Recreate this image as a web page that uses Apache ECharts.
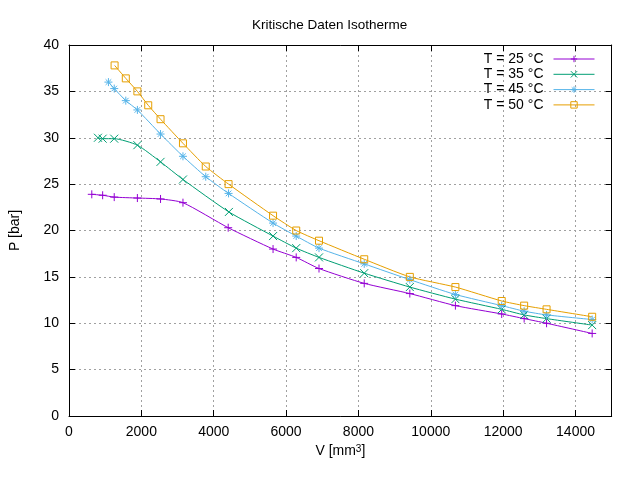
<!DOCTYPE html>
<html>
<head>
<meta charset="utf-8">
<script src="https://cdn.jsdelivr.net/npm/echarts@6/dist/echarts.min.js"></script>
<style>html,body{margin:0;padding:0;background:#fff}#c{width:640px;height:480px}</style>
</head>
<body>
<div id="c"></div>
<script>
var xTicks = [0, 2000, 4000, 6000, 8000, 10000, 12000, 14000];
var yTicks = [0, 5, 10, 15, 20, 25, 30, 35, 40];
var seriesNames = ['T = 25 °C', 'T = 35 °C', 'T = 45 °C', 'T = 50 °C'];

var v25 = [630, 930, 1250, 1890, 2530, 3150, 4400, 5640, 6280, 6910, 8160, 9420, 10680, 11960, 12580, 13200, 14460];
var p25 = [23.9, 23.8, 23.6, 23.5, 23.4, 23.0, 20.3, 18.0, 17.1, 15.9, 14.3, 13.2, 11.9, 11.0, 10.5, 10.0, 8.9];

var v35 = [800, 930, 1250, 1890, 2530, 3150, 4420, 5640, 6280, 6910, 8160, 9420, 10680, 11960, 12580, 13200, 14460];
var p35 = [30.0, 29.9, 29.9, 29.2, 27.4, 25.5, 22.0, 19.4, 18.1, 17.1, 15.4, 13.9, 12.6, 11.5, 10.9, 10.5, 9.8];

var v45 = [1090, 1250, 1570, 1890, 2530, 3150, 3780, 4410, 5640, 6280, 6910, 8160, 9420, 10680, 11960, 12580, 13200, 14460];
var p45 = [36.0, 35.3, 34.0, 33.0, 30.4, 28.0, 25.8, 24.0, 20.8, 19.4, 18.1, 16.4, 14.7, 13.1, 11.9, 11.3, 10.9, 10.4];

var v50 = [1260, 1570, 1890, 2190, 2530, 3150, 3780, 4410, 5640, 6280, 6910, 8160, 9420, 10680, 11960, 12580, 13200, 14460];
var p50 = [37.8, 36.4, 35.0, 33.5, 32.0, 29.4, 26.9, 25.0, 21.6, 20.0, 18.9, 16.9, 15.0, 13.9, 12.4, 11.9, 11.5, 10.7];

function pairs(v, p) { return v.map(function (x, i) { return [x, p[i]]; }); }

var colors = ['#9400d3', '#009e73', '#56b4e9', '#e69f00'];
var symbols = [
  'path://M5,0L5,10M0,5L10,5',
  'path://M0,0L10,10M10,0L0,10',
  'path://M5,0L5,10M0,5L10,5M1.5,1.5L8.5,8.5M8.5,1.5L1.5,8.5',
  'path://M0,0L10,0L10,10L0,10Z'
];
var sizes = [8, 8, 8, 7];
var datas = [pairs(v25, p25), pairs(v35, p35), pairs(v45, p45), pairs(v50, p50)];

var font = 'Liberation Sans, Arial, sans-serif';
var chart = echarts.init(document.getElementById('c'), null, {renderer: 'canvas'});

var option = {
  backgroundColor: '#fff',
  animation: false,
  title: {
    text: 'Kritische Daten Isotherme',
    left: 247, top: 13,
    textStyle: {fontFamily: font, fontSize: 13.5, fontWeight: 'normal', color: '#000'}
  },
  legend: {
    orient: 'vertical',
    right: 40, top: 47,
    align: 'right',
    itemWidth: 41, itemHeight: 8, itemGap: 1.3,
    lineStyle: {width: 1},
    itemStyle: {borderWidth: 1},
    textStyle: {fontFamily: font, fontSize: 14, color: '#000', padding: [0, 5, 0, 0], lineHeight: 14},
    data: seriesNames
  },
  grid: {left: 64.3, top: 45, width: 547.4, height: 371, containLabel: false},
  xAxis: [
    {
      type: 'value', min: xTicks[0], max: 15000, interval: xTicks[1] - xTicks[0],
      name: 'V [mm{s|3}]', nameLocation: 'middle', nameGap: 27,
      nameTextStyle: {fontFamily: font, fontSize: 14, color: '#000',
        rich: {s: {fontSize: 10, verticalAlign: 'top', lineHeight: 10, padding: [0, 0, 8, 0], fontFamily: font, color: '#000'}}},
      axisLine: {show: true, onZero: false, lineStyle: {color: '#000', width: 1}},
      axisTick: {show: true, inside: true, length: 6, lineStyle: {color: '#000'}},
      axisLabel: {fontFamily: font, fontSize: 14, color: '#000', margin: 9, showMaxLabel: false,
        formatter: function (v) { return String(v); }},
      splitLine: {show: true, lineStyle: {color: '#a0a0a0', width: 1, type: [2, 3]}}
    },
    {
      type: 'value', min: xTicks[0], max: 15000, interval: xTicks[1] - xTicks[0], position: 'top',
      axisLine: {show: true, onZero: false, lineStyle: {color: '#000', width: 1}},
      axisTick: {show: true, inside: true, length: 6, lineStyle: {color: '#000'}},
      axisLabel: {show: false}, splitLine: {show: false}
    }
  ],
  yAxis: [
    {
      type: 'value', min: yTicks[0], max: yTicks[yTicks.length - 1], interval: yTicks[1] - yTicks[0],
      name: 'P [bar]', nameLocation: 'middle', nameGap: 47, nameRotate: 90,
      nameTextStyle: {fontFamily: font, fontSize: 14, color: '#000'},
      axisLine: {show: true, onZero: false, lineStyle: {color: '#000', width: 1}},
      axisTick: {show: true, inside: true, length: 6, lineStyle: {color: '#000'}},
      axisLabel: {fontFamily: font, fontSize: 14, color: '#000', margin: 10},
      splitLine: {show: true, lineStyle: {color: '#a0a0a0', width: 1, type: [2, 3]}}
    },
    {
      type: 'value', min: yTicks[0], max: yTicks[yTicks.length - 1], interval: yTicks[1] - yTicks[0], position: 'right',
      axisLine: {show: true, onZero: false, lineStyle: {color: '#000', width: 1}},
      axisTick: {show: true, inside: true, length: 6, lineStyle: {color: '#000'}},
      axisLabel: {show: false}, splitLine: {show: false}
    }
  ],
  series: seriesNames.map(function (n, i) {
    return {
      name: n, type: 'line', xAxisIndex: 0, yAxisIndex: 0,
      data: datas[i],
      smooth: 0.2,
      symbol: symbols[i], symbolSize: sizes[i], symbolKeepAspect: true,
      showAllSymbol: true,
      lineStyle: {color: colors[i], width: 1},
      itemStyle: {color: 'rgba(0,0,0,0)', borderColor: colors[i], borderWidth: 1},
      emphasis: {disabled: true}
    };
  })
};
chart.setOption(option);
</script>
</body>
</html>
